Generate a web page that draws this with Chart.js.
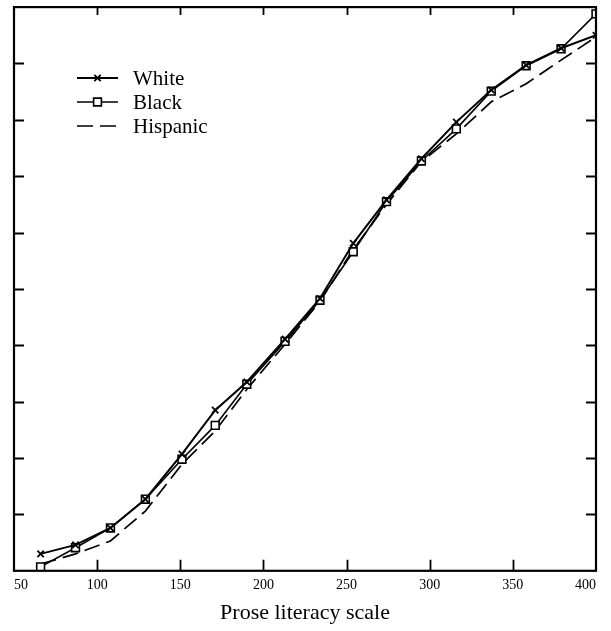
<!DOCTYPE html>
<html>
<head>
<meta charset="utf-8">
<title>Prose literacy scale</title>
<script src="https://cdn.jsdelivr.net/npm/chart.js@4.4.1/dist/chart.umd.min.js"></script>
<style>
  html, body { margin: 0; padding: 0; background: #fff; }
  #wrap { width: 611px; height: 631px; }
</style>
</head>
<body>
<div id="wrap"><canvas id="chart" width="611" height="631"></canvas></div>
<script>
// Values (cumulative share, 0-100, against prose score)
const scores = [66, 87, 108, 129, 151, 171, 190, 213, 234, 254, 274, 295, 316, 337, 358, 379, 400];
const white = [3.0, 4.6, 7.6, 12.7, 20.7, 28.5, 33.5, 41.1, 48.3, 58.1, 65.8, 73.1, 79.6, 85.3, 89.7, 92.7, 95.0];
const black = [0.7, 4.1, 7.6, 12.7, 19.8, 25.8, 33.1, 40.7, 48.0, 56.6, 65.5, 72.7, 78.4, 85.1, 89.6, 92.6, 98.8];
const hispanic = [1.2, 3.0, 5.3, 10.6, 18.9, 24.8, 32.2, 40.2, 47.8, 57.0, 65.0, 72.6, 77.5, 83.2, 86.4, 90.6, 94.7];
const xTicks = [50, 100, 150, 200, 250, 300, 350, 400];
const yTicks = [0, 10, 20, 30, 40, 50, 60, 70, 80, 90, 100];

const SERIF = "'Liberation Serif', 'Times New Roman', 'DejaVu Serif', serif";

function pts(ys) {
  return scores.map((x, i) => ({ x: x, y: ys[i] }));
}

// frame with inward ticks on all four sides
const framePlugin = {
  id: 'frame',
  afterDraw(chart) {
    const { ctx, chartArea: a, scales } = chart;
    ctx.save();
    ctx.strokeStyle = '#000';
    ctx.lineWidth = 2.2;
    ctx.strokeRect(a.left, a.top, a.right - a.left, a.bottom - a.top);
    ctx.lineWidth = 1.8;
    ctx.beginPath();
    xTicks.slice(1, -1).forEach(v => {
      const px = Math.round(scales.x.getPixelForValue(v)) + 0.5;
      ctx.moveTo(px, a.bottom); ctx.lineTo(px, a.bottom - 11);
      ctx.moveTo(px, a.top); ctx.lineTo(px, a.top + 8);
    });
    yTicks.slice(1, -1).forEach(v => {
      const py = Math.round(scales.y.getPixelForValue(v)) + 0.5;
      ctx.moveTo(a.left, py); ctx.lineTo(a.left + 10, py);
      ctx.moveTo(a.right, py); ctx.lineTo(a.right - 10, py);
    });
    ctx.stroke();
    ctx.restore();
  }
};

// legend drawn inside the plot, top left
const insideLegend = {
  id: 'insideLegend',
  afterDatasetsDraw(chart) {
    const ctx = chart.ctx;
    const x0 = 77, x1 = 118, tx = 133;
    const rows = [78, 102, 126];
    ctx.save();
    chart.data.datasets.forEach((ds, i) => {
      const y = rows[i];
      ctx.strokeStyle = '#000';
      ctx.lineWidth = ds.borderWidth;
      ctx.setLineDash(ds.borderDash || []);
      ctx.beginPath();
      ctx.moveTo(x0, y); ctx.lineTo(x1, y);
      ctx.stroke();
      ctx.setLineDash([]);
      if (ds.pointRadius > 0) {
        ctx.fillStyle = ds.pointBackgroundColor;
        ctx.lineWidth = ds.pointBorderWidth;
        Chart.helpers.drawPoint(ctx, {
          pointStyle: ds.pointStyle,
          radius: ds.pointRadius,
          borderWidth: ds.pointBorderWidth,
          rotation: 0
        }, (x0 + x1) / 2, y);
      }
      ctx.fillStyle = '#000';
      ctx.font = '21px ' + SERIF;
      ctx.textBaseline = 'middle';
      ctx.fillText(ds.label, tx, y + 1);
    });
    ctx.restore();
  }
};

new Chart(document.getElementById('chart'), {
  type: 'line',
  data: {
    datasets: [
      {
        label: 'White',
        data: pts(white),
        borderColor: '#000',
        borderWidth: 2,
        pointStyle: 'crossRot',
        pointRadius: 4.5,
        pointBorderWidth: 1.8,
        pointBorderColor: '#000',
        pointBackgroundColor: '#000'
      },
      {
        label: 'Black',
        data: pts(black),
        borderColor: '#000',
        borderWidth: 1.6,
        pointStyle: 'rect',
        pointRadius: 5.5,
        pointBorderWidth: 1.6,
        pointBorderColor: '#000',
        pointBackgroundColor: '#fff'
      },
      {
        label: 'Hispanic',
        data: pts(hispanic),
        borderColor: '#000',
        borderWidth: 1.7,
        borderDash: [16, 7],
        pointRadius: 0,
        pointBackgroundColor: '#000'
      }
    ]
  },
  options: {
    responsive: false,
    animation: false,
    layout: { padding: { left: 14, right: 15, top: 5, bottom: 5 } },
    plugins: {
      legend: { display: false },
      tooltip: { enabled: false }
    },
    elements: { line: { tension: 0, fill: false } },
    scales: {
      x: {
        type: 'linear',
        min: 50,
        max: 400,
        afterBuildTicks(scale) { scale.ticks = xTicks.map(v => ({ value: v })); },
        grid: { display: false, drawTicks: false },
        border: { display: false },
        ticks: {
          color: '#000',
          padding: 6,
          align: 'inner',
          maxRotation: 0,
          font: { family: SERIF, size: 14 }
        },
        title: {
          display: true,
          text: 'Prose literacy scale',
          color: '#000',
          padding: { top: 0, bottom: 0 },
          font: { family: SERIF, size: 22 }
        }
      },
      y: {
        min: 0,
        max: 100,
        afterBuildTicks(scale) { scale.ticks = yTicks.map(v => ({ value: v })); },
        grid: { display: false, drawTicks: false },
        border: { display: false },
        ticks: { display: false }
      }
    }
  },
  plugins: [framePlugin, insideLegend]
});
</script>
</body>
</html>
